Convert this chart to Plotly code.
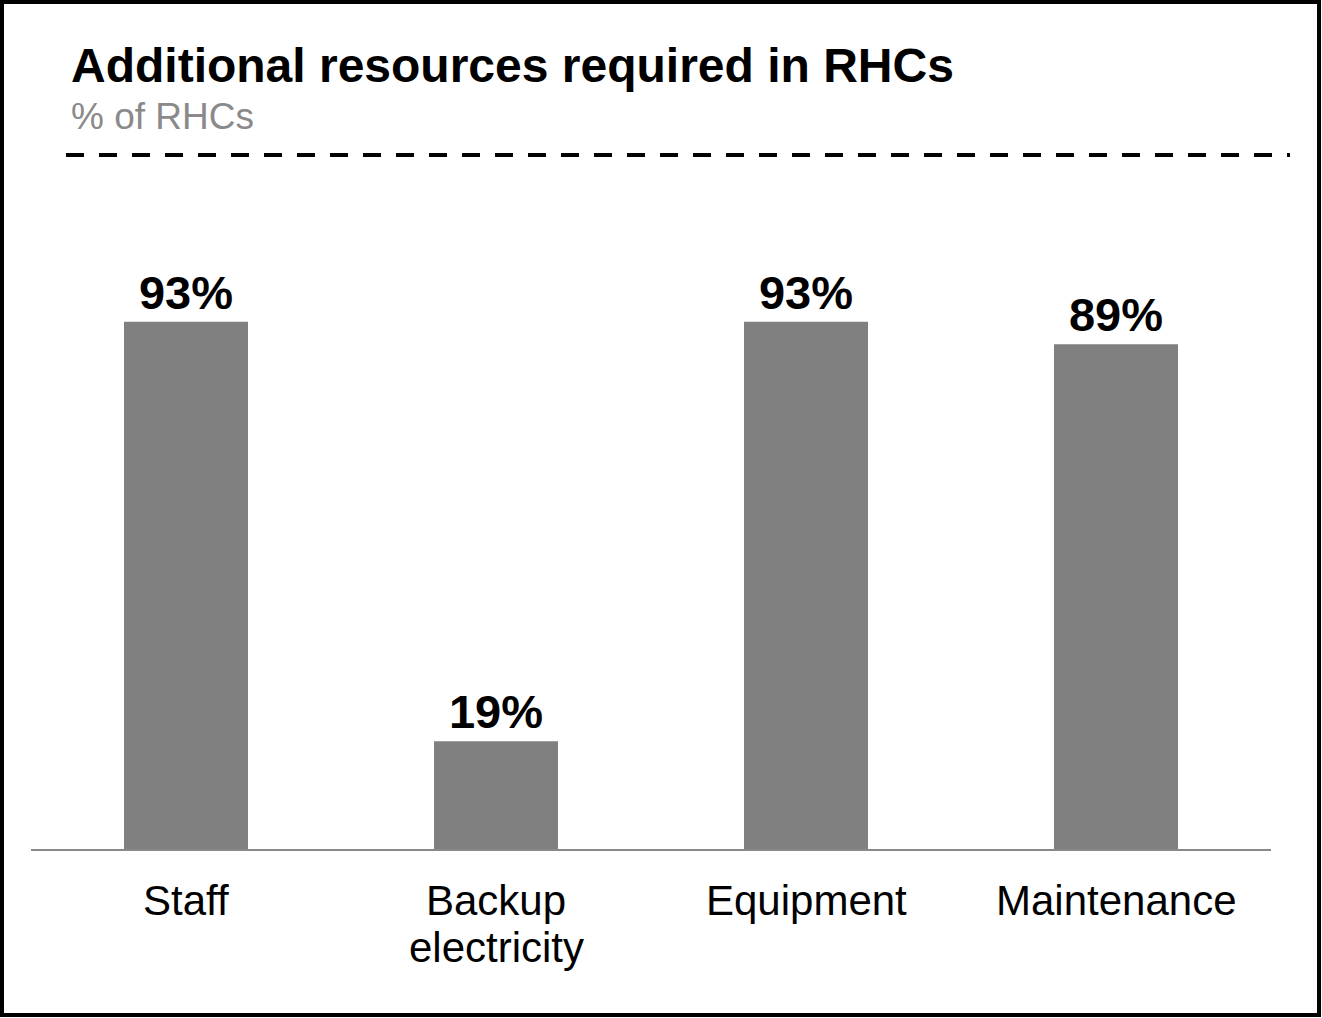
import plotly.graph_objects as go

categories = ["Staff", "Backup<br>electricity", "Equipment", "Maintenance"]
values = [93, 19, 93, 89]
labels = ["93%", "19%", "93%", "89%"]

title_text = "Additional resources required in RHCs"
subtitle_text = "% of RHCs"

FONT = "Liberation Sans, Arial, sans-serif"

# plot area pixel geometry
L, R, T, B = 31, 1271, 282, 849
W, H = 1322, 1018

def px(x):
    return (x - L) / (R - L)

def py(y):
    return (B - y) / (B - T)

fig = go.Figure()
fig.add_trace(go.Bar(
    x=categories,
    y=values,
    text=labels,
    textposition="outside",
    textfont=dict(family=FONT, size=47, color="#000000", weight="bold"),
    marker=dict(color="#808080", line=dict(width=0)),
    width=0.4,
    cliponaxis=False,
    hoverinfo="skip",
))

# category labels, one annotation per text line
cat_annotations = []
for cat in categories:
    for i, line in enumerate(cat.split("<br>")):
        cat_annotations.append(dict(
            text=line, xref="x", yref="paper", x=cat, y=0,
            xanchor="center", yanchor="top", yshift=-26 - 47 * i,
            showarrow=False, font=dict(family=FONT, size=42, color="#000000"),
        ))

fig.update_layout(
    width=W, height=H,
    margin=dict(l=L, r=W - R, t=T, b=H - B, pad=0),
    paper_bgcolor="#ffffff",
    plot_bgcolor="#ffffff",
    showlegend=False,
    font=dict(family=FONT, color="#000000"),
    xaxis=dict(
        range=[-0.5, 3.5],
        showline=True, linecolor="#898989", linewidth=2,
        showgrid=False, zeroline=False, ticks="",
        showticklabels=False,
        fixedrange=True,
    ),
    yaxis=dict(
        range=[0, 100], visible=False, showgrid=False, zeroline=False,
        fixedrange=True,
    ),
    annotations=[
        dict(text="<b>" + title_text + "</b>", xref="paper", yref="paper",
             x=px(69), y=py(94), xanchor="left", yanchor="bottom",
             showarrow=False, font=dict(family=FONT, size=48, color="#000000")),
        dict(text=subtitle_text, xref="paper", yref="paper",
             x=px(69), y=py(139), xanchor="left", yanchor="bottom",
             showarrow=False, font=dict(family=FONT, size=37, color="#8a8a8a")),
    ] + cat_annotations,
    shapes=[
        dict(type="line", xref="paper", yref="paper",
             x0=px(66), x1=px(1290), y0=py(155), y1=py(155),
             line=dict(color="#000000", width=4, dash="18px,15px")),
        dict(type="rect", xref="paper", yref="paper",
             x0=px(2), x1=px(1319), y0=py(1015), y1=py(2),
             line=dict(color="#000000", width=4), fillcolor="rgba(0,0,0,0)"),
    ],
)

fig.write_html(
    "out.html",
    config={"displayModeBar": False, "staticPlot": True},
    post_script="document.body.style.margin='0';document.body.style.overflow='hidden';",
)
